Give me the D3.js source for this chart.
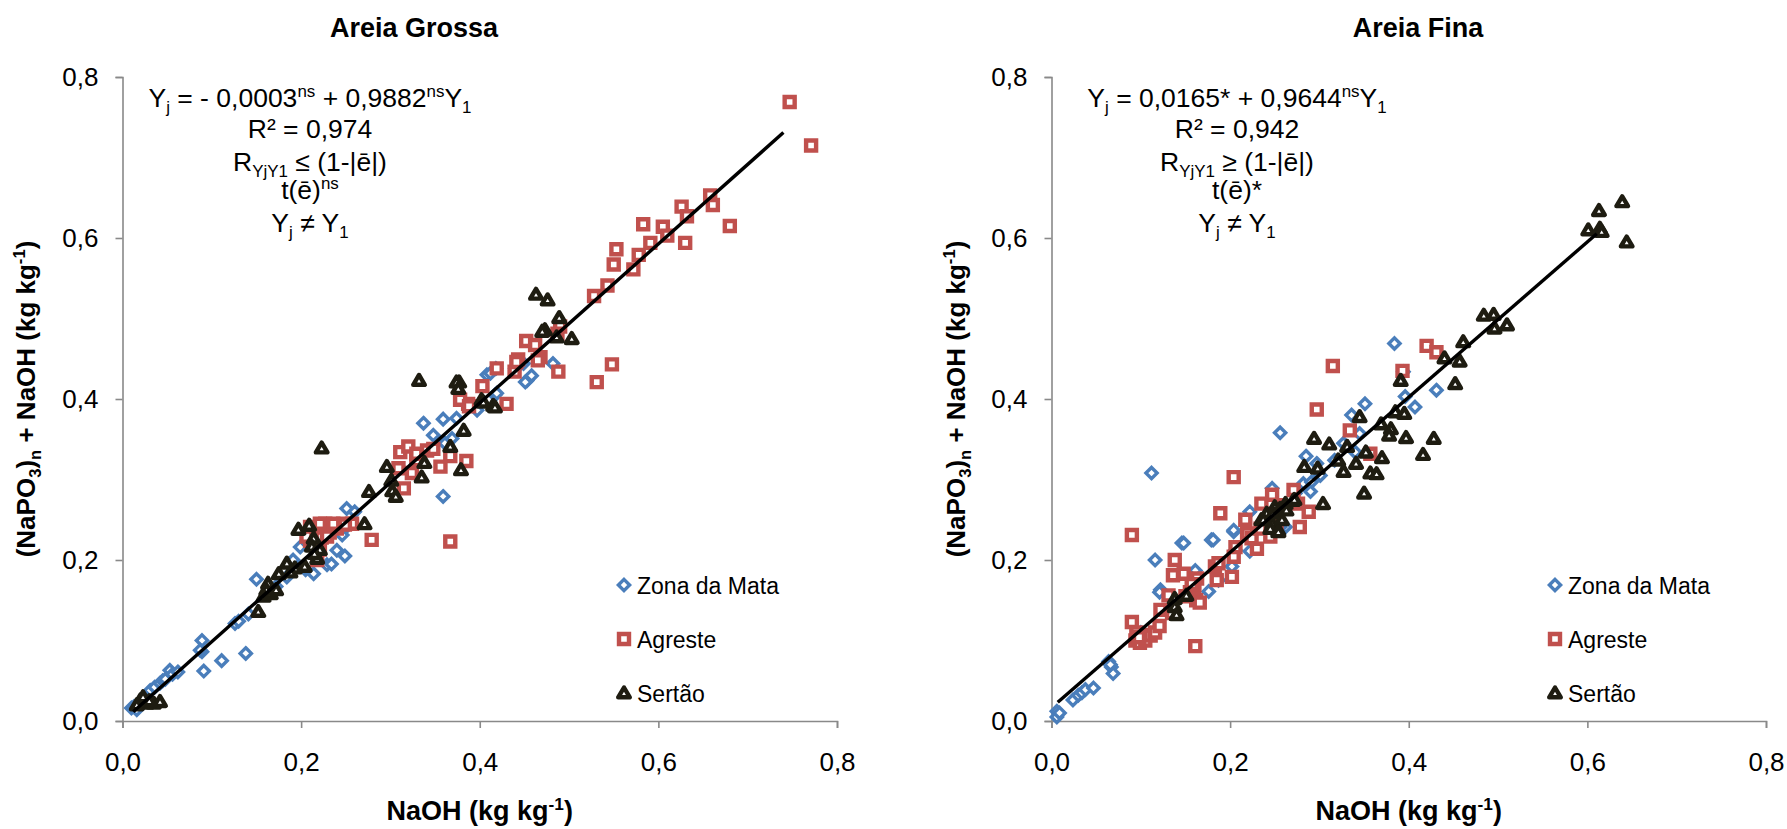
<!DOCTYPE html>
<html>
<head>
<meta charset="utf-8">
<script src="https://cdn.jsdelivr.net/npm/d3@7"></script>
<style>
  html, body { margin: 0; padding: 0; background: #ffffff; }
  svg { display: block; }
  text { font-family: "Liberation Sans", Arial, sans-serif; fill: #000; }
</style>
</head>
<body>
<svg id="chart" width="1787" height="829"></svg>
<script>
// Series names, in drawing order
const categories = ["Zona da Mata", "Agreste", "Sertão"];
const tickValues = [0, 0.2, 0.4, 0.6, 0.8];

// Areia Grossa: [NaOH, (NaPO3)n + NaOH] in kg kg-1
const grossaZonaMata = [
  [0.010,0.016],[0.013,0.018],[0.016,0.014],[0.031,0.038],[0.036,0.042],[0.042,0.047],
  [0.045,0.050],[0.048,0.052],[0.053,0.063],[0.056,0.058],[0.062,0.061],[0.089,0.100],
  [0.089,0.086],[0.087,0.088],[0.091,0.062],[0.111,0.075],[0.138,0.084],[0.126,0.121],
  [0.130,0.124],[0.141,0.133],[0.150,0.176],[0.172,0.167],[0.184,0.179],[0.191,0.200],
  [0.199,0.216],[0.205,0.188],[0.214,0.183],[0.229,0.194],[0.240,0.212],[0.249,0.205],
  [0.246,0.236],[0.251,0.264],[0.260,0.260],[0.246,0.231],[0.234,0.195],[0.337,0.370],
  [0.359,0.375],[0.374,0.376],[0.348,0.355],[0.361,0.345],[0.369,0.351],[0.359,0.279],
  [0.397,0.386],[0.408,0.430],[0.417,0.405],[0.412,0.432],[0.418,0.438],[0.419,0.407],
  [0.440,0.438],[0.449,0.444],[0.453,0.423],[0.458,0.429],[0.451,0.421],[0.482,0.444]
];
const grossaAgreste = [
  [0.747,0.769],[0.771,0.715],[0.658,0.653],[0.661,0.641],[0.626,0.639],[0.632,0.627],
  [0.680,0.615],[0.630,0.594],[0.583,0.617],[0.605,0.614],[0.610,0.603],[0.591,0.594],
  [0.553,0.586],[0.578,0.579],[0.550,0.567],[0.572,0.561],[0.543,0.541],[0.528,0.528],
  [0.548,0.443],[0.531,0.421],[0.488,0.434],[0.490,0.490],[0.487,0.481],[0.452,0.472],
  [0.462,0.467],[0.468,0.452],[0.465,0.448],[0.443,0.449],[0.439,0.434],[0.419,0.438],
  [0.441,0.446],[0.403,0.416],[0.387,0.394],[0.430,0.394],[0.378,0.399],[0.388,0.391],
  [0.385,0.323],[0.367,0.329],[0.356,0.316],[0.341,0.336],[0.348,0.338],[0.311,0.334],
  [0.320,0.341],[0.329,0.324],[0.309,0.314],[0.324,0.308],[0.315,0.289],[0.329,0.332],
  [0.279,0.225],[0.367,0.223],[0.227,0.245],[0.247,0.245],[0.257,0.245],[0.210,0.241],
  [0.219,0.234],[0.232,0.234],[0.223,0.228],[0.210,0.224],[0.240,0.239],[0.221,0.245],
  [0.229,0.229],[0.206,0.229],[0.221,0.213],[0.249,0.244],[0.236,0.245],[0.218,0.200]
];
const grossaSertao = [
  [0.463,0.530],[0.476,0.523],[0.489,0.501],[0.473,0.486],[0.470,0.484],[0.486,0.477],
  [0.503,0.475],[0.402,0.399],[0.415,0.392],[0.377,0.421],[0.332,0.423],[0.374,0.421],
  [0.376,0.413],[0.404,0.396],[0.417,0.390],[0.223,0.339],[0.382,0.361],[0.367,0.341],
  [0.338,0.321],[0.335,0.303],[0.379,0.312],[0.296,0.316],[0.301,0.299],[0.302,0.286],
  [0.306,0.279],[0.276,0.285],[0.271,0.245],[0.197,0.238],[0.209,0.243],[0.214,0.227],
  [0.212,0.217],[0.221,0.213],[0.218,0.202],[0.215,0.208],[0.204,0.192],[0.193,0.190],
  [0.188,0.185],[0.184,0.196],[0.175,0.183],[0.163,0.171],[0.161,0.163],[0.158,0.155],
  [0.166,0.158],[0.172,0.163],[0.152,0.136],[0.020,0.026],[0.027,0.022],[0.035,0.022],
  [0.042,0.024],[0.016,0.020],[0.023,0.030],[0.030,0.025]
];

// Areia Fina
const finaZonaMata = [
  [0.006,0.012],[0.006,0.005],[0.009,0.010],[0.024,0.026],[0.030,0.032],[0.034,0.035],
  [0.038,0.039],[0.047,0.041],[0.064,0.074],[0.067,0.067],[0.069,0.059],[0.066,0.070],
  [0.116,0.200],[0.146,0.221],[0.179,0.225],[0.112,0.308],[0.122,0.163],[0.161,0.187],
  [0.176,0.161],[0.204,0.235],[0.206,0.212],[0.222,0.260],[0.247,0.289],[0.222,0.211],
  [0.187,0.175],[0.202,0.192],[0.262,0.241],[0.282,0.295],[0.384,0.469],[0.256,0.358],
  [0.351,0.394],[0.336,0.380],[0.396,0.403],[0.407,0.390],[0.431,0.411],[0.345,0.357],
  [0.394,0.434],[0.327,0.345],[0.340,0.334],[0.285,0.329],[0.297,0.320],[0.317,0.324],
  [0.301,0.305],[0.291,0.297],[0.290,0.285],[0.204,0.237],[0.181,0.225],[0.148,0.221],
  [0.256,0.241],[0.273,0.283],[0.121,0.160],[0.100,0.110]
];
const finaAgreste = [
  [0.204,0.303],[0.189,0.258],[0.090,0.231],[0.138,0.200],[0.136,0.181],[0.148,0.183],
  [0.163,0.177],[0.155,0.160],[0.160,0.165],[0.150,0.155],[0.162,0.150],[0.157,0.170],
  [0.131,0.156],[0.166,0.147],[0.122,0.138],[0.135,0.134],[0.090,0.123],[0.094,0.100],
  [0.099,0.097],[0.105,0.100],[0.101,0.107],[0.111,0.106],[0.116,0.110],[0.121,0.118],
  [0.161,0.093],[0.185,0.175],[0.183,0.192],[0.187,0.196],[0.202,0.179],[0.204,0.204],
  [0.206,0.216],[0.217,0.250],[0.219,0.233],[0.224,0.227],[0.230,0.214],[0.234,0.239],
  [0.235,0.270],[0.245,0.229],[0.247,0.281],[0.256,0.268],[0.271,0.287],[0.276,0.270],
  [0.278,0.241],[0.252,0.244],[0.420,0.466],[0.431,0.458],[0.315,0.441],[0.393,0.435],
  [0.297,0.387],[0.334,0.361],[0.357,0.332],[0.288,0.260],[0.095,0.110],[0.098,0.104]
];
const finaSertao = [
  [0.138,0.152],[0.151,0.156],[0.138,0.142],[0.140,0.132],[0.235,0.250],[0.241,0.258],
  [0.250,0.266],[0.254,0.237],[0.262,0.270],[0.271,0.274],[0.247,0.245],[0.258,0.250],
  [0.391,0.423],[0.345,0.378],[0.385,0.384],[0.395,0.382],[0.369,0.369],[0.380,0.363],
  [0.378,0.355],[0.397,0.352],[0.428,0.351],[0.416,0.331],[0.294,0.351],[0.311,0.344],
  [0.331,0.341],[0.352,0.334],[0.370,0.327],[0.321,0.324],[0.341,0.320],[0.327,0.310],
  [0.283,0.316],[0.298,0.314],[0.357,0.308],[0.364,0.307],[0.350,0.283],[0.304,0.270],
  [0.272,0.275],[0.237,0.250],[0.248,0.258],[0.256,0.264],[0.263,0.262],[0.245,0.239],
  [0.254,0.235],[0.639,0.645],[0.613,0.634],[0.601,0.610],[0.614,0.612],[0.616,0.608],
  [0.644,0.595],[0.484,0.504],[0.495,0.505],[0.496,0.488],[0.510,0.492],[0.461,0.471],
  [0.457,0.447],[0.440,0.451],[0.452,0.419]
];

// Fitted lines: intercept, slope and the NaOH range they span
const grossaFit = [-0.0003, 0.9882];
const grossaFitRange = [0.012, 0.740];
const finaFit = [0.0165, 0.9644];
const finaFitRange = [0.007, 0.6105];

const colors = ["#4a7ebb", "#c0504d", "#1e1c11"];
const svg = d3.select("#chart");
const fmt = d => d3.format(".1f")(d).replace(".", ",");
const FONT = 26;

// marker shapes, centred on the origin
function markerPath(k) {
  if (k === 0) return "M0,-5.6L5.6,0L0,5.6L-5.6,0Z";
  if (k === 1) return "M-5,-5H5V5H-5Z";
  return "M0,-5.5L5.8,4.3H-5.8Z";
}
function markerStroke(k) { return k === 0 ? 3.4 : k === 1 ? 4.4 : 4.4; }

function addMarker(g, k, x, y) {
  g.append("path")
    .attr("d", markerPath(k))
    .attr("transform", `translate(${x},${y})`)
    .attr("fill", "#fff")
    .attr("stroke", colors[k])
    .attr("stroke-width", markerStroke(k))
    .attr("stroke-linejoin", k === 2 ? "round" : "miter");
}

// text built from [string, kind] parts; kind: "" normal, "sub", "sup"
function richText(g, x, y, parts, size, anchor) {
  const t = g.append("text").attr("x", x).attr("y", y)
    .attr("text-anchor", anchor || "middle").attr("font-size", size);
  let shift = 0;
  parts.forEach(([s, kind]) => {
    const target = kind === "sub" ? 6 : kind === "sup" ? -10 : 0;
    t.append("tspan")
      .attr("dy", target - shift)
      .attr("font-size", kind ? size * 0.64 : size)
      .text(s);
    shift = target;
  });
  return t;
}

function panel(opts) {
  const x = d3.scaleLinear().domain([0, 0.8]).range([opts.x0, opts.x0 + 714.5]);
  const y = d3.scaleLinear().domain([0, 0.8]).range([721, 77]);
  const g = svg.append("g");

  // title
  g.append("text").attr("x", opts.titleX).attr("y", 37)
    .attr("text-anchor", "middle").attr("font-size", 27).attr("font-weight", "bold")
    .text(opts.title);

  // axes
  const yAxis = d3.axisLeft(y).tickValues(tickValues).tickFormat(fmt)
    .tickSize(7).tickPadding(17);
  const xAxis = d3.axisBottom(x).tickValues(tickValues).tickFormat(fmt)
    .tickSize(7).tickPadding(25);
  [g.append("g").attr("transform", `translate(${opts.x0},0)`).call(yAxis),
   g.append("g").attr("transform", "translate(0,721)").call(xAxis)].forEach(a => {
    a.selectAll("path, line").attr("stroke", "#898989").attr("stroke-width", 1.6);
    a.selectAll("text").attr("font-size", FONT)
      .style("font-family", '"Liberation Sans", Arial, sans-serif').attr("fill", "#000");
  });

  // axis titles
  richText(g.append("g").attr("transform", `translate(${opts.yTitleX},399) rotate(-90)`),
    0, 0, [["(NaPO", ""], ["3", "sub"], [")", ""], ["n", "sub"], [" + NaOH (kg kg", ""], ["-1", "sup"], [")", ""]],
    26, "middle").attr("font-weight", "bold");
  richText(g, (opts.x0 + opts.x0 + 714.5) / 2, 820,
    [["NaOH (kg kg", ""], ["-1", "sup"], [")", ""]], 27, "middle").attr("font-weight", "bold");

  // points
  opts.series.forEach((pts, k) => {
    const sg = g.append("g");
    pts.forEach(d => addMarker(sg, k, x(d[0]), y(d[1])));
  });

  // fitted line
  const [a, b] = opts.fit;
  g.append("line")
    .attr("x1", x(opts.fitRange[0])).attr("y1", y(a + b * opts.fitRange[0]))
    .attr("x2", x(opts.fitRange[1])).attr("y2", y(a + b * opts.fitRange[1]))
    .attr("stroke", "#000").attr("stroke-width", 3.4);

  // statistics block
  const ex = opts.eqX;
  opts.eq.forEach((parts, i) => richText(g, ex, [107, 138, 171, 199, 232][i], parts, 26.5));

  // legend
  categories.forEach((name, k) => {
    const cy = [585, 639, 693][k];
    addMarker(g, k, opts.legX, cy);
    g.append("text").attr("x", opts.legX + 13).attr("y", cy + 8.5)
      .attr("font-size", 23).text(name);
  });
}

panel({
  title: "Areia Grossa", titleX: 414, x0: 122.5, yTitleX: 35, eqX: 310, legX: 624,
  series: [grossaZonaMata, grossaAgreste, grossaSertao],
  fit: grossaFit, fitRange: grossaFitRange,
  eq: [
    [["Y", ""], ["j", "sub"], [" = - 0,0003", ""], ["ns", "sup"], [" + 0,9882", ""], ["ns", "sup"], ["Y", ""], ["1", "sub"]],
    [["R² = 0,974", ""]],
    [["R", ""], ["YjY1", "sub"], [" ≤ (1-|ē|)", ""]],
    [["t(ē)", ""], ["ns", "sup"]],
    [["Y", ""], ["j", "sub"], [" ≠ Y", ""], ["1", "sub"]]
  ]
});

panel({
  title: "Areia Fina", titleX: 1418, x0: 1051.5, yTitleX: 965, eqX: 1237, legX: 1555,
  series: [finaZonaMata, finaAgreste, finaSertao],
  fit: finaFit, fitRange: finaFitRange,
  eq: [
    [["Y", ""], ["j", "sub"], [" = 0,0165* + 0,9644", ""], ["ns", "sup"], ["Y", ""], ["1", "sub"]],
    [["R² = 0,942", ""]],
    [["R", ""], ["YjY1", "sub"], [" ≥ (1-|ē|)", ""]],
    [["t(ē)*", ""]],
    [["Y", ""], ["j", "sub"], [" ≠ Y", ""], ["1", "sub"]]
  ]
});
</script>
</body>
</html>
